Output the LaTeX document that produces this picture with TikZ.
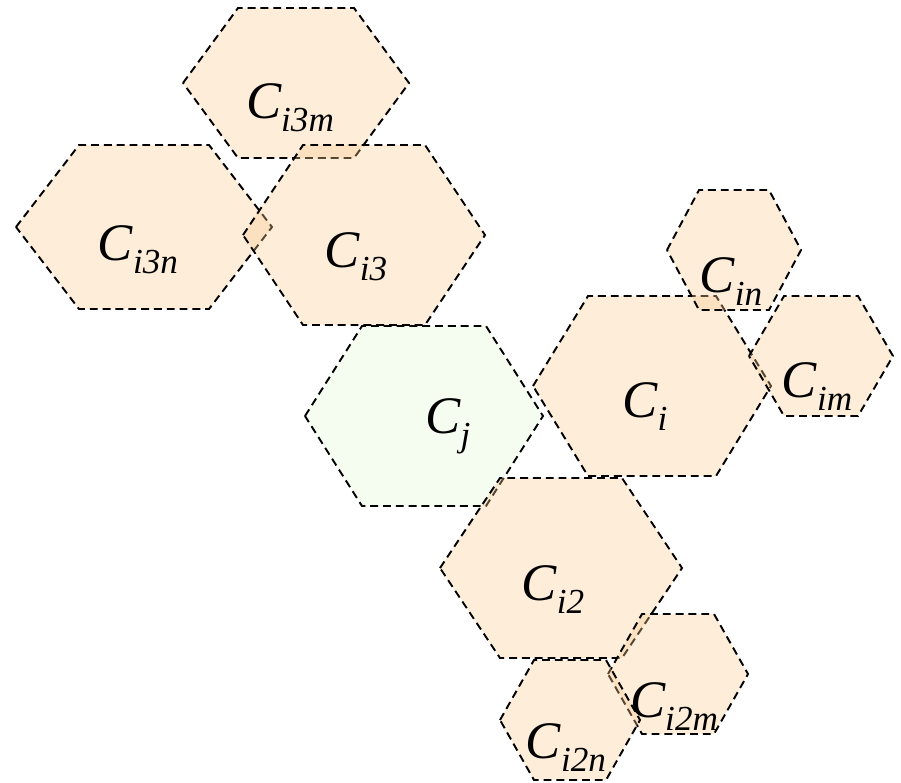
\documentclass[tikz,border=0pt]{standalone}
\usepackage{fontspec}
\setmainfont{Liberation Serif}
\usepackage{xcolor}
\usepackage{tikz}
\definecolor{cellorange}{HTML}{F9CB91}
\definecolor{cellgreen}{HTML}{F5FCF0}
\newcommand{\cellsub}[1]{\raisebox{-7.5pt}{\fontsize{20}{24}\selectfont #1}}

\begin{document}
\begin{tikzpicture}[x=0.02cm,y=-0.02cm,
 cell/.style={draw,line width=1.1pt,dash pattern=on 4.5pt off 2.8pt,fill=cellorange,fill opacity=0.35},
 cellj/.style={draw,line width=1.1pt,dash pattern=on 4.5pt off 2.8pt,fill=cellgreen},
 lab/.style={font=\fontsize{30}{36}\selectfont\itshape,anchor=base,inner sep=0pt}]
\useasboundingbox (0,0) rectangle (901,782);
% centre x / centre y / half width / half top edge / half height
\draw[cellj] (424-119,416) -- (424-62,416-90) -- (424+62,416-90) -- (424+119,416)
 -- (424+62,416+90) -- (424-62,416+90) -- cycle;
\foreach \x/\y/\w/\t/\h in {296/83/113/58/75, 144/227/128/65/82, 364/235/121/61/90,
 652/386/119/64/90, 734/250/67/35/60, 821/356/72/37/60,
 561/568/121/61/90, 678/674/70/36/60, 570/720/70/36/60}
 \draw[cell] (\x-\w,\y) -- (\x-\t,\y-\h) -- (\x+\t,\y-\h) -- (\x+\w,\y)
 -- (\x+\t,\y+\h) -- (\x-\t,\y+\h) -- cycle;
\node[lab] (i3m) at (290,118) {C\cellsub{i3m}};
\node[lab] (i3n) at (138,260) {C\cellsub{i3n}};
\node[lab] (i3) at (356,267) {C\cellsub{i3}};
\node[lab] (j) at (448,433) {C\cellsub{j}};
\node[lab] (i) at (645,417) {C\cellsub{i}};
\node[lab] (in) at (731,292) {C\cellsub{in}};
\node[lab] (im) at (817,397) {C\cellsub{im}};
\node[lab] (i2) at (553,600) {C\cellsub{i2}};
\node[lab] (i2m) at (674,717) {C\cellsub{i2m}};
\node[lab] (i2n) at (566,758) {C\cellsub{i2n}};
\end{tikzpicture}
\end{document}
